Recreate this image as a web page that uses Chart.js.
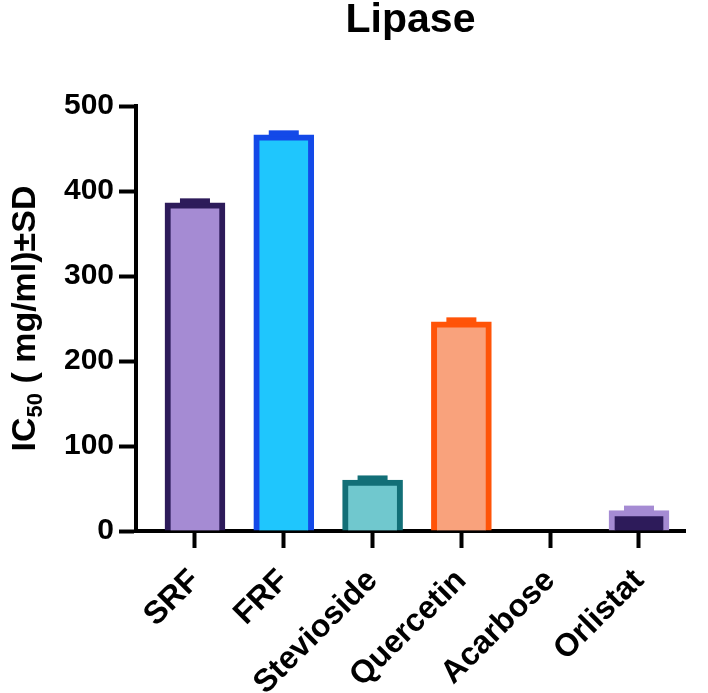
<!DOCTYPE html>
<html>
<head>
<meta charset="utf-8">
<script src="https://cdn.jsdelivr.net/npm/chart.js@4/dist/chart.umd.min.js"></script>
<style>
  html, body { margin: 0; padding: 0; background: #ffffff; }
  #wrap { width: 708px; height: 693px; }
</style>
</head>
<body>
<div id="wrap"><canvas id="c" width="708" height="693"></canvas></div>
<script>
// ---- data ----
const categories = ['SRF', 'FRF', 'Stevioside', 'Quercetin', 'Acarbose', 'Orlistat'];
const ic50Values = [386, 466, 60, 246, null, 24];
const sdValues   = [3, 3, 3, 3, null, 3.5];
const fillColors   = ['#a58bd3', '#1fc6fd', '#70c8ce', '#f9a27c', '#cccccc', '#2d1b5a'];
const borderColors = ['#2d1b5a', '#1349e8', '#126f77', '#ff5408', '#cccccc', '#a58bd3'];
const yTicks = [0, 100, 200, 300, 400, 500];
const chartTitle = 'Lipase';
const yTitleMain = 'IC';
const yTitleSub = '50';
const yTitleRest = ' ( mg/ml)\u00B1SD';

const FONT = '"Liberation Sans", Arial, Helvetica, sans-serif';

// error bar plugin: draws SD caps above each bar
const errorBars = {
  id: 'errorBars',
  afterDatasetsDraw(chart) {
    const ctx = chart.ctx;
    const meta = chart.getDatasetMeta(0);
    const yScale = chart.scales.y;
    ctx.save();
    meta.data.forEach((bar, i) => {
      const v = ic50Values[i], sd = sdValues[i];
      if (v == null || sd == null) return;
      const x = bar.x;
      const yTop = yScale.getPixelForValue(v);
      const ySd = yScale.getPixelForValue(v + sd);
      ctx.fillStyle = borderColors[i];
      // vertical SD line merged with a 4px cap, 30px wide
      ctx.fillRect(x - 15, ySd - 2, 30, yTop - ySd + 4);
    });
    ctx.restore();
  }
};

// y-axis title with a true subscript
const yTitlePlugin = {
  id: 'yTitle',
  afterDraw(chart) {
    const ctx = chart.ctx;
    const area = chart.chartArea;
    const big = 'bold 34px ' + FONT;
    const small = 'bold 22px ' + FONT;
    ctx.save();
    ctx.font = big;
    const w1 = ctx.measureText(yTitleMain).width;
    const w3 = ctx.measureText(yTitleRest).width;
    ctx.font = small;
    const w2 = ctx.measureText(yTitleSub).width;
    const total = w1 + w2 + w3;
    const cy = (area.top + area.bottom) / 2;
    const baseX = 35;
    ctx.translate(baseX, cy);
    ctx.rotate(-Math.PI / 2);
    ctx.fillStyle = '#000';
    ctx.textBaseline = 'alphabetic';
    ctx.textAlign = 'left';
    let x = -total / 2;
    ctx.font = big;
    ctx.fillText(yTitleMain, x, 0);
    x += w1;
    ctx.font = small;
    ctx.fillText(yTitleSub, x, 7);
    x += w2;
    ctx.font = big;
    ctx.fillText(yTitleRest, x, 0);
    ctx.restore();
  }
};

new Chart(document.getElementById('c'), {
  type: 'bar',
  data: {
    datasets: [{
      data: categories.map((c, i) => ({ x: i, y: ic50Values[i] })),
      backgroundColor: fillColors,
      borderColor: borderColors,
      borderWidth: 6,
      borderSkipped: 'bottom',
      barThickness: 60
    }]
  },
  options: {
    responsive: false,
    animation: false,
    layout: { padding: { left: 0, right: 23, top: 0, bottom: 0 } },
    plugins: {
      legend: { display: false },
      tooltip: { enabled: false },
      title: {
        display: true,
        text: chartTitle,
        fullSize: false,
        color: '#000',
        font: { family: FONT, size: 41, weight: 'bold', lineHeight: 1 },
        padding: { top: 0, bottom: 65 }
      }
    },
    scales: {
      x: {
        type: 'linear',
        offset: false,
        min: -0.664,
        max: 5.518,
        afterBuildTicks(scale) { scale.ticks = categories.map((c, i) => ({ value: i })); },
        afterFit(scale) { scale.height = 162; },
        grid: {
          display: true, offset: false, drawOnChartArea: false, drawTicks: true,
          tickLength: 17, tickWidth: 4, tickColor: '#000'
        },
        border: { display: true, color: '#000', width: 4 },
        ticks: {
          autoSkip: false,
          minRotation: 45, maxRotation: 45,
          padding: 14,
          color: '#000',
          font: { family: FONT, size: 32, weight: 'bold' },
          callback: (v) => categories[v]
        }
      },
      y: {
        min: 0, max: 500,
        afterBuildTicks(scale) { scale.ticks = yTicks.map(v => ({ value: v })); },
        afterFit(scale) { scale.width = 136; },
        grid: {
          display: true, drawOnChartArea: false, drawTicks: true,
          tickLength: 17, tickWidth: 4, tickColor: '#000'
        },
        border: { display: true, color: '#000', width: 4 },
        ticks: {
          padding: 5,
          color: '#000',
          font: { family: FONT, size: 30, weight: 'bold' }
        },
        title: { display: false }
      }
    }
  },
  plugins: [errorBars, yTitlePlugin]
});
</script>
</body>
</html>
